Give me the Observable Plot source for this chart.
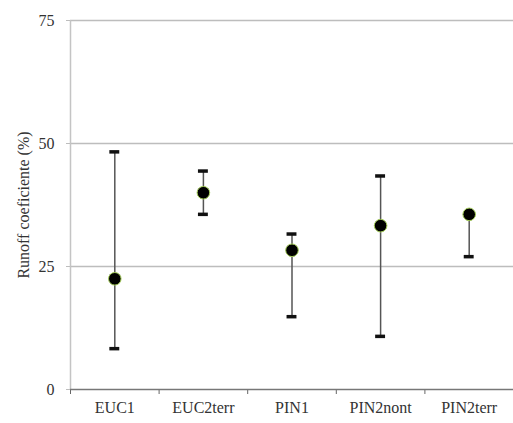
<!DOCTYPE html>
<html>
<head>
<meta charset="utf-8">
<script src="https://cdn.jsdelivr.net/npm/d3@7"></script>
<script src="https://cdn.jsdelivr.net/npm/@observablehq/plot@0.6"></script>
<style>
  html, body { margin: 0; padding: 0; background: #fff; }
</style>
</head>
<body>
<div id="chart"></div>
<script>
const categories = ["EUC1", "EUC2terr", "PIN1", "PIN2nont", "PIN2terr"];
const means = [22.5, 40.0, 28.3, 33.3, 35.6];
const lower = [8.3, 35.6, 14.8, 10.8, 27.0];
const upper = [48.3, 44.4, 31.6, 43.4, 35.6];
const yTicks = [0, 25, 50, 75];
const yLabel = "Runoff coeficiente (%)";

const data = categories.map((c, i) => ({i, c, mean: means[i], lo: lower[i], hi: upper[i]}));
const capHalf = 0.056;
const bounds = d3.range(categories.length + 1).map(i => i - 0.5);
const serif = "'Liberation Serif', 'Times New Roman', serif";

const chart = Plot.plot({
  width: 513,
  height: 423,
  marginLeft: 70,
  marginRight: 0,
  marginTop: 20,
  marginBottom: 34,
  style: {fontFamily: serif, fontSize: "16px", color: "#333", background: "#fff"},
  x: {domain: [-0.5, categories.length - 0.5], axis: null},
  y: {domain: [0, 75]},
  marks: [
    Plot.ruleY(yTicks.filter(d => d > 0), {stroke: "#bdbdbd", strokeWidth: 1.5}),
    Plot.ruleX([-0.5], {y1: 0, y2: 75, stroke: "#c4c4c4", strokeWidth: 1.5}),
    Plot.axisY({ticks: yTicks, tickSize: 4, tickPadding: 12, stroke: "#bdbdbd", label: yLabel, labelAnchor: "center", labelArrow: "none", labelOffset: 53, fontSize: 16, fill: "#333"}),
    Plot.axisX({ticks: bounds, tickSize: 5, tickFormat: () => "", stroke: "#666", label: null}),
    Plot.axisX({ticks: d3.range(categories.length), tickSize: 0, tickPadding: 12, tickFormat: i => categories[i], fontSize: 16, fill: "#333", label: null}),
    Plot.ruleY([0], {stroke: "#777", strokeWidth: 1.5}),
    Plot.ruleX(data, {x: "i", y1: "lo", y2: "hi", stroke: "#555", strokeWidth: 1.5}),
    Plot.ruleY(data.filter(d => d.hi > d.mean), {y: "hi", x1: d => d.i - capHalf, x2: d => d.i + capHalf, stroke: "#111", strokeWidth: 3.5}),
    Plot.ruleY(data.filter(d => d.lo < d.mean), {y: "lo", x1: d => d.i - capHalf, x2: d => d.i + capHalf, stroke: "#111", strokeWidth: 3.5}),
    Plot.dot(data, {x: "i", y: "mean", r: 6.3, fill: "#000", stroke: "#a6cf5a", strokeWidth: 1})
  ]
});
chart.removeAttribute("class");
chart.querySelectorAll("style").forEach(s => s.remove());
chart.querySelectorAll("[font-variant]").forEach(el => el.removeAttribute("font-variant"));
chart.querySelectorAll("text").forEach(t => {
  t.setAttribute("font-family", "Liberation Serif");
  t.style.setProperty("font-family", serif, "important");
});
document.getElementById("chart").appendChild(chart);
</script>
</body>
</html>
